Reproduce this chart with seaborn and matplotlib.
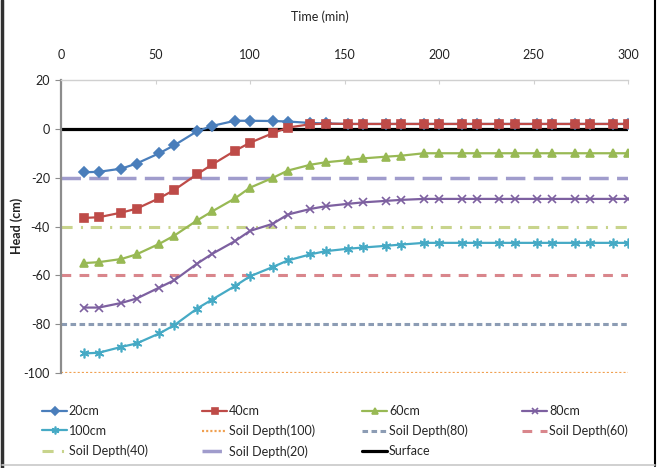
import matplotlib
matplotlib.use('Agg')
import matplotlib.pyplot as plt
from matplotlib.lines import Line2D
import numpy as np
import seaborn as sns

# time of each reading (min)
time = [12, 20, 32, 40, 52, 60, 72, 80, 92, 100, 112, 120, 132, 140, 152,
        160, 172, 180, 192, 200, 212, 220, 232, 240, 252, 260, 272, 280, 292, 300]

head20 = [-17.8, -17.6, -16.3, -14.2, -10.0, -6.7, -1.0, 1.2, 3.3, 3.3, 3.2, 3.0, 2.4, 2.2, 2.0,
          2.0, 2.0, 2.0, 2.0, 2.0, 2.0, 2.0, 2.0, 2.0, 2.0, 2.0, 2.0, 2.0, 2.0, 2.0]
head40 = [-36.5, -36.2, -34.3, -32.7, -28.4, -25.0, -18.6, -14.6, -9.0, -5.7, -1.8, 0.5, 1.9, 2.1, 2.0,
          2.0, 2.0, 2.0, 2.0, 2.0, 2.0, 2.0, 2.0, 2.0, 2.0, 2.0, 2.0, 2.0, 2.0, 2.0]
head60 = [-55.0, -54.6, -53.3, -51.4, -47.1, -43.7, -37.5, -33.8, -28.5, -24.1, -20.1, -17.1, -14.7, -13.7, -12.8,
          -12.1, -11.4, -11.0, -10.0, -10.0, -10.0, -10.0, -10.0, -10.0, -10.0, -10.0, -10.0, -10.0, -10.0, -10.0]
head80 = [-73.2, -73.2, -71.3, -69.5, -65.0, -62.0, -55.2, -51.2, -46.0, -41.8, -38.9, -35.1, -32.8, -31.7, -30.7,
          -30.1, -29.5, -29.1, -28.7, -28.7, -28.7, -28.7, -28.7, -28.7, -28.7, -28.7, -28.7, -28.7, -28.7, -28.7]
head100 = [-92.0, -91.7, -89.3, -87.9, -83.8, -80.4, -73.6, -69.9, -64.4, -60.4, -56.6, -53.9, -51.4, -50.1, -49.1,
           -48.6, -47.9, -47.4, -46.7, -46.7, -46.7, -46.7, -46.7, -46.7, -46.7, -46.7, -46.7, -46.7, -46.7, -46.7]

series_labels = ['20cm', '40cm', '60cm', '80cm', '100cm']
depth_labels = ['Soil Depth(100)', 'Soil Depth(80)', 'Soil Depth(60)', 'Soil Depth(40)', 'Soil Depth(20)']
depth_levels = [-100, -80, -60, -40, -20]
surface_level = 0

sns.set_style('white')
plt.rcParams['font.family'] = ['Lato', 'DejaVu Sans']
plt.rcParams['lines.scale_dashes'] = False
plt.rcParams['axes.unicode_minus'] = False

fig = plt.figure(figsize=(6.61, 4.68), dpi=100)
ax = fig.add_axes([61/661, 1 - 373/468, 567/661, 293/468])

# reference lines
depth_style = [
    ('#F0A050', 1.6, (0, (1.5, 1.5))),
    ('#8C9CB4', 2.2, (0, (4, 2.5))),
    ('#D9868C', 2.2, (0, (7, 6))),
    ('#C8D48C', 2.2, (0, (8, 6, 1.5, 5.5))),
    ('#A09CCC', 2.5, (0, (14, 6))),
]
depth_handles = []
for lvl, lab, (c, lw, ls) in zip(depth_levels, depth_labels, depth_style):
    h = ax.axhline(lvl, color=c, lw=lw, linestyle=ls, label=lab, zorder=1)
    depth_handles.append(h)
surf = ax.axhline(surface_level, color='black', lw=2.3, label='Surface', zorder=2)

colors = ['#4A7EBB', '#BE4B48', '#98B954', '#7D60A0', '#46AAC5']
markers = ['D', 's', '^', 'x', (6, 2, 0)]
msizes = [5, 6, 6, 6, 7]
heads = [head20, head40, head60, head80, head100]
series_handles = []
for y, lab, c, m, ms in zip(heads, series_labels, colors, markers, msizes):
    sns.lineplot(x=time, y=y, ax=ax, color=c, marker=m, markersize=ms, lw=1.6,
                 markeredgecolor=c, markeredgewidth=1.2, zorder=3)
    series_handles.append(Line2D([0], [0], color=c, lw=1.6, marker=m, markersize=ms,
                                 markeredgecolor=c, markeredgewidth=1.2))
if ax.get_legend() is not None:
    ax.get_legend().remove()

ax.set_xlim(0, 300)
ax.set_ylim(-100, 20)
ax.set_xticks([0, 50, 100, 150, 200, 250, 300])
ax.set_yticks([-100, -80, -60, -40, -20, 0, 20])
ax.xaxis.tick_top()
ax.set_xlabel('')
ax.set_ylabel('')
for s in ['right', 'bottom']:
    ax.spines[s].set_visible(False)
ax.spines['top'].set_color('#D0D0D0')
ax.spines['top'].set_linewidth(1.0)
ax.spines['left'].set_color('#8C8C8C')
ax.spines['left'].set_linewidth(1.6)
ax.tick_params(axis='x', direction='in', length=3, color='#D0D0D0', pad=14,
               labelsize=9, labelcolor='#222222')
ax.tick_params(axis='y', direction='out', length=4, color='#8C8C8C', pad=4,
               labelsize=9, labelcolor='#222222', left=True)

fig.text(320/661, 1 - 17/468, 'Time (min)', ha='center', va='center', fontsize=9, color='#222222')
fig.text(17/661, 1 - 226/468, 'Head (cm)', ha='center', va='center', rotation=90,
         fontsize=9, fontweight='bold', color='#222222')

# legend laid out row by row, one legend per column
all_h = series_handles + depth_handles + [surf]
all_l = series_labels + depth_labels + ['Surface']
col_x = [42, 202, 362, 522]
for ci, x0 in enumerate(col_x):
    idx = list(range(ci, len(all_h), 4))
    fig.legend([all_h[i] for i in idx], [all_l[i] for i in idx], loc='upper left',
               bbox_to_anchor=(x0/661, 1 - 405/468), frameon=False, fontsize=9,
               handlelength=2.0, handletextpad=0.15, labelspacing=0.62,
               borderpad=0, borderaxespad=0, numpoints=1, markerscale=0.8)

# figure frame
fig.add_artist(Line2D([2/661, 2/661], [0, 1], color='#303030', lw=2.5, transform=fig.transFigure))
fig.add_artist(Line2D([655/661, 655/661], [2/468, 1], color='black', lw=1.5, transform=fig.transFigure))
fig.add_artist(Line2D([2/661, 655/661], [3/468, 3/468], color='#C8C8C8', lw=1.2, transform=fig.transFigure))

fig.savefig('out.png', dpi=100)
